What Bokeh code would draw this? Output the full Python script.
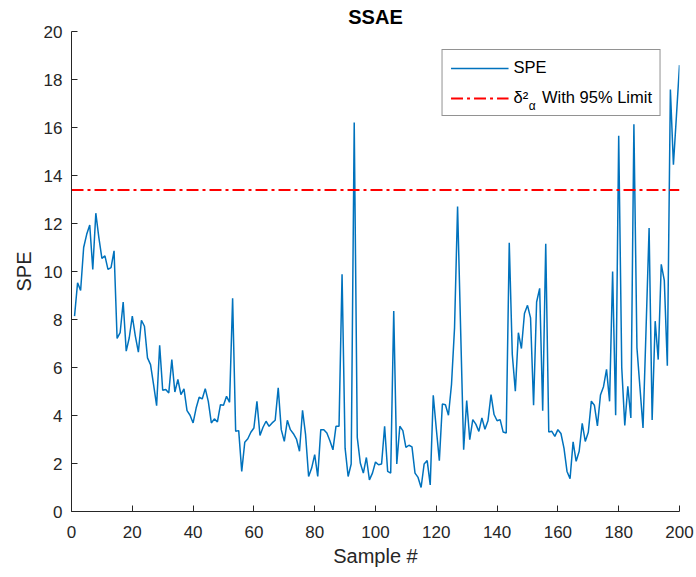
from bokeh.plotting import figure
from bokeh.models import Range1d, FixedTicker, Legend, LegendItem, Label
from bokeh.embed import file_html
from bokeh.resources import INLINE

spe = [8.14, 9.53, 9.21, 11.0, 11.55, 11.94, 10.09, 12.43, 11.41, 10.55,
       10.65, 10.09, 10.16, 10.86, 7.21, 7.45, 8.73, 6.68, 7.24, 8.14,
       7.31, 6.64, 7.97, 7.72, 6.40, 6.12, 5.29, 4.41, 6.93, 5.05,
       5.08, 4.94, 6.33, 4.98, 5.50, 4.87, 5.11, 4.20, 4.01, 3.69,
       4.31, 4.76, 4.69, 5.12, 4.59, 3.69, 3.86, 3.73, 4.45, 4.43,
       4.80, 4.55, 8.88, 3.34, 3.37, 1.67, 2.89, 3.03, 3.30, 3.48,
       4.59, 3.17, 3.51, 3.76, 3.55, 3.69, 3.80, 5.15, 3.41, 2.92,
       3.80, 3.41, 3.24, 3.02, 2.51, 4.22, 3.20, 1.46, 1.81, 2.37,
       1.46, 3.41, 3.41, 3.27, 2.95, 2.57, 3.55, 3.55, 9.88, 2.64,
       1.46, 1.98, 16.21, 3.09, 2.02, 1.60, 2.25, 1.32, 1.60, 2.06,
       1.95, 1.98, 3.55, 1.67, 1.60, 8.35, 1.98, 3.55, 3.37, 2.67,
       2.76, 2.69, 1.60, 1.42, 1.00, 1.98, 2.12, 1.11, 4.84, 3.45,
       2.12, 4.48, 4.45, 4.01, 5.29, 7.65, 12.71, 7.6, 2.57, 4.62,
       2.99, 3.83, 3.64, 3.34, 3.90, 3.43, 3.78, 4.87, 4.04, 3.78,
       3.83, 3.31, 3.27, 11.2, 6.54, 5.01, 7.45, 6.79, 8.25, 8.59,
       8.07, 4.43, 8.73, 9.30, 4.20, 11.16, 3.31, 3.34, 3.13, 3.41,
       3.25, 2.64, 1.67, 1.37, 2.90, 2.09, 2.51, 3.67, 2.92, 3.30,
       4.60, 4.43, 3.57, 4.85, 5.20, 5.92, 4.59, 10.0, 4.01, 15.66,
       6.0, 3.59, 5.22, 3.90, 16.14, 6.82, 5.15, 3.48, 7.6, 11.81,
       3.81, 7.93, 6.33, 10.30, 9.63, 6.07, 17.58, 14.45, 16.5, 18.6]
samples = list(range(1, len(spe) + 1))
limit_value = 13.4
limit_x = [0, 200]
x_ticks = [0, 20, 40, 60, 80, 100, 120, 140, 160, 180, 200]
y_ticks = [0, 2, 4, 6, 8, 10, 12, 14, 16, 18, 20]

FONT = "Liberation Sans"
DARK = "#262626"

p = figure(frame_width=608, frame_height=480,
           min_border_left=71, min_border_right=17,
           min_border_top=31, min_border_bottom=66,
           x_range=Range1d(0, 200), y_range=Range1d(0, 20),
           output_backend="svg", toolbar_location=None,
           background_fill_color="white", border_fill_color="white")
p.outline_line_color = None
p.grid.visible = False

p.title.text = "SSAE"
p.title.align = "center"
p.title.text_font = FONT
p.title.text_font_size = "20px"
p.title.text_font_style = "bold"
p.title.text_color = "black"
p.title.standoff = 7

for ax in (p.xaxis[0], p.yaxis[0]):
    ax.axis_line_color = DARK
    ax.major_tick_line_color = DARK
    ax.minor_tick_line_color = None
    ax.major_tick_in = 6
    ax.major_tick_out = 0
    ax.major_label_text_font = FONT
    ax.major_label_text_font_size = "17px"
    ax.major_label_text_color = DARK
    ax.axis_label_text_font = FONT
    ax.axis_label_text_font_size = "20px"
    ax.axis_label_text_font_style = "normal"
    ax.axis_label_text_color = DARK

p.xaxis.ticker = FixedTicker(ticks=x_ticks)
p.yaxis.ticker = FixedTicker(ticks=y_ticks)
p.xaxis.axis_label = "Sample #"
p.yaxis.axis_label = "SPE"
p.xaxis.major_label_standoff = 14
p.yaxis.major_label_standoff = 9
p.xaxis.axis_label_standoff = 4
p.yaxis.axis_label_standoff = 6

r1 = p.line(samples, spe, line_color="#0072BD", line_width=1.5)
r2 = p.line(limit_x, [limit_value, limit_value], line_color="#FF0000",
            line_width=2, line_dash="12 4 3 4")

# subscript alpha of the legend's delta symbol (the legend sits over empty space)
alpha_label = Label(x=150.4, y=16.9, x_units="data", y_units="data",
                    text="\u03b1", text_font=FONT, text_font_size="12px",
                    text_baseline="alphabetic", text_color="black")
p.add_layout(alpha_label)

legend = Legend(items=[LegendItem(label="SPE", renderers=[r1]),
                       LegendItem(label="\u03b4\u00b2\u00a0\u00a0 With 95% Limit", renderers=[r2])],
                location="top_right")
legend.margin = 18
legend.padding = 8
legend.spacing = 11
legend.glyph_width = 58
legend.glyph_height = 18
legend.label_height = 18
legend.label_standoff = 5
legend.label_text_font = FONT
legend.label_text_font_size = "16.5px"
legend.label_text_color = "black"
legend.border_line_color = DARK
legend.border_line_width = 1
legend.background_fill_color = "white"
legend.background_fill_alpha = 0
p.add_layout(legend)

open("out.html", "w").write(file_html(p, INLINE))
